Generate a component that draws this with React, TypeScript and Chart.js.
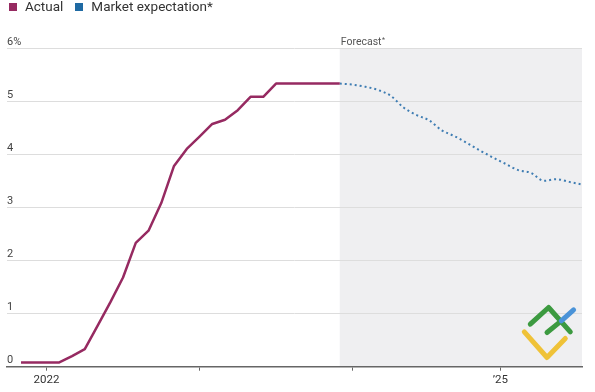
import React, { useEffect, useRef } from "react";
import { Chart, registerables } from "chart.js";

Chart.register(...registerables);

// Months counted from January 2022 (0 = Jan 2022)
const actualMonths = [-2, -1, 0, 1, 2, 3, 4, 5, 6, 7, 8, 9, 10, 11, 12, 13, 14, 15, 16, 17, 18, 19, 20, 21, 22, 23];
const actualRates = [0.08, 0.08, 0.08, 0.08, 0.2, 0.33, 0.77, 1.21, 1.68, 2.33, 2.56, 3.08, 3.78, 4.1, 4.33, 4.57, 4.65, 4.83, 5.08, 5.08, 5.33, 5.33, 5.33, 5.33, 5.33, 5.33];

const forecastMonths = [23, 24, 25, 26, 27, 28, 29, 30, 31, 32, 33, 34, 35, 36, 37, 38, 39, 40, 41, 42];
const forecastRates = [5.33, 5.31, 5.27, 5.21, 5.1, 4.88, 4.74, 4.64, 4.45, 4.34, 4.21, 4.07, 3.94, 3.82, 3.7, 3.65, 3.5, 3.53, 3.48, 3.43];

const xTickValues = [0, 12, 24, 35.6];
const xTickLabels = ["2022", "", "", "\u201925"];
const yTickValues = [0, 1, 2, 3, 4, 5, 6];
const yTickLabels = ["0", "1", "2", "3", "4", "5", "6%"];

const legendNames = ["Actual", "Market expectation*"];
const forecastLabel = "Forecast";

const ACTUAL_COLOR = "#962a61";
const FORECAST_COLOR = "#3f7db3";
const FONT = "Roboto, 'Liberation Sans', sans-serif";

const forecastPlugin = {
  id: "forecastRegion",
  beforeDraw(chart: any) {
    const { ctx, chartArea, scales } = chart;
    const x0 = scales.x.getPixelForValue(forecastMonths[0]);
    ctx.save();
    ctx.fillStyle = "#efeff1";
    ctx.fillRect(x0, chartArea.top, chartArea.right - x0, chartArea.bottom - chartArea.top);
    ctx.fillStyle = "#555";
    ctx.font = `10.5px ${FONT}`;
    ctx.textBaseline = "alphabetic";
    ctx.textAlign = "left";
    ctx.fillText(forecastLabel, x0 + 1, chartArea.top - 3.5);
    const w = ctx.measureText(forecastLabel).width;
    ctx.font = `7px ${FONT}`;
    ctx.fillText("*", x0 + 1.5 + w, chartArea.top - 6.5);
    ctx.restore();
  },
  afterDraw(chart: any) {
    // decorative watermark logo in lower right corner
    const { ctx, chartArea } = chart;
    const R = chartArea.right;
    const B = chartArea.bottom;
    const stroke = (pts: number[][], color: string) => {
      ctx.beginPath();
      pts.forEach((p, i) => (i ? ctx.lineTo(R + p[0], B + p[1]) : ctx.moveTo(R + p[0], B + p[1])));
      ctx.strokeStyle = color;
      ctx.lineWidth = 5;
      ctx.lineCap = "round";
      ctx.lineJoin = "round";
      ctx.stroke();
    };
    ctx.save();
    stroke([[-57.7, -34.8], [-35, -9.2], [-16.7, -28.2]], "#efc238");
    stroke([[-51.7, -42.5], [-33.4, -59.2], [-11.7, -34.8]], "#3c9a40");
    stroke([[-35, -34.2], [-20.7, -45.8]], "#3c9a40");
    stroke([[-20.7, -45.8], [-8.4, -56.8]], "#4a93d8");
    ctx.restore();
  },
};

export default function App() {
  const canvasRef = useRef<HTMLCanvasElement | null>(null);

  useEffect(() => {
    if (!canvasRef.current) return;
    const chart = new Chart(canvasRef.current, {
      type: "line",
      data: {
        datasets: [
          {
            label: legendNames[0],
            data: actualMonths.map((m, i) => ({ x: m, y: actualRates[i] })),
            borderColor: ACTUAL_COLOR,
            backgroundColor: ACTUAL_COLOR,
            borderWidth: 2.5,
            pointRadius: 0,
            borderJoinStyle: "round",
            tension: 0,
          },
          {
            label: legendNames[1],
            data: forecastMonths.map((m, i) => ({ x: m, y: forecastRates[i] })),
            borderColor: FORECAST_COLOR,
            backgroundColor: FORECAST_COLOR,
            borderWidth: 2,
            borderDash: [2, 3],
            pointRadius: 0,
            cubicInterpolationMode: "monotone",
          },
        ],
      },
      options: {
        animation: false,
        responsive: false,
        devicePixelRatio: 1,
        layout: { padding: { left: 7, right: 13, top: 48, bottom: 1.5 } },
        plugins: {
          legend: { display: false },
          tooltip: { enabled: false },
        },
        scales: {
          x: {
            type: "linear",
            min: -3.1,
            max: 42,
            afterBuildTicks: (scale: any) => {
              scale.ticks = xTickValues.map((v) => ({ value: v }));
            },
            ticks: {
              autoSkip: false,
              maxRotation: 0,
              padding: 3,
              color: "#333",
              font: { family: FONT, size: 11.5 },
              callback: (_v: any, i: number) => xTickLabels[i],
            },
            grid: {
              display: true,
              drawOnChartArea: false,
              drawTicks: true,
              tickLength: 4,
              color: "#666",
            },
            border: { display: true, color: "#666", width: 1.5 },
          },
          y: {
            type: "linear",
            min: 0,
            max: 6,
            afterBuildTicks: (scale: any) => {
              scale.ticks = yTickValues.map((v) => ({ value: v }));
            },
            ticks: {
              mirror: true,
              padding: 0,
              labelOffset: -6,
              color: "#444",
              font: { family: FONT, size: 11 },
              callback: (_v: any, i: number) => yTickLabels[i],
            },
            grid: { color: "#dddddd", drawTicks: false, lineWidth: 1 },
            border: { display: false },
          },
        },
      },
      plugins: [forecastPlugin],
    } as any);
    return () => chart.destroy();
  }, []);

  const sq = (color: string): React.CSSProperties => ({
    display: "inline-block",
    width: 8,
    height: 8,
    background: color,
    marginRight: 8,
    position: "relative",
    top: 0,
  });

  return (
    <div style={{ position: "fixed", left: 0, top: 0, width: 595, height: 392, background: "#fff" }}>
      <canvas ref={canvasRef} width={595} height={392} style={{ display: "block", width: 595, height: 392 }} />
      <div
        style={{
          position: "absolute",
          left: 9,
          top: -2,
          fontFamily: FONT,
          fontSize: 13.5,
          lineHeight: "16px",
          color: "#333",
          whiteSpace: "nowrap",
        }}
      >
        <span style={sq(ACTUAL_COLOR)} />
        <span style={{ marginRight: 12 }}>{legendNames[0]}</span>
        <span style={sq("#1f6aa3")} />
        <span>{legendNames[1]}</span>
      </div>
    </div>
  );
}
